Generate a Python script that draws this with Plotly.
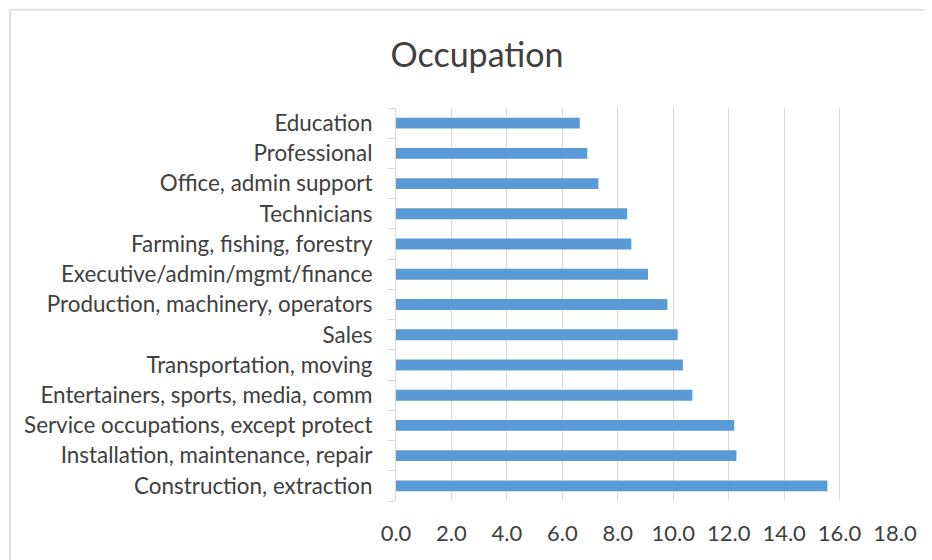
import plotly.graph_objects as go

categories = [
    "Construction, extraction",
    "Installation, maintenance, repair",
    "Service occupations, except protect",
    "Entertainers, sports, media, comm",
    "Transportation, moving",
    "Sales",
    "Production, machinery, operators",
    "Executive/admin/mgmt/finance",
    "Farming, fishing, forestry",
    "Technicians",
    "Office, admin support",
    "Professional",
    "Education",
]
values = [15.56, 12.28, 12.20, 10.69, 10.35, 10.16, 9.79, 9.09, 8.49, 8.34, 7.30, 6.90, 6.63]
tick_vals = [0, 2, 4, 6, 8, 10, 12, 14, 16, 18]
tick_text = ["0.0", "2.0", "4.0", "6.0", "8.0", "10.0", "12.0", "14.0", "16.0", "18.0"]

FONT = "Lato"
# page body has an 8px margin; figure sized to fit in the window
W, H = 924, 552
OFF = 8
L = 396 - OFF
R = W - (895.5 - OFF)
T = 108 - OFF
B = H - (501 - OFF)
pw = W - L - R
ph = H - T - B

fig = go.Figure(go.Bar(
    x=values, y=categories, orientation="h",
    marker=dict(color="#5b9bd5", line=dict(width=0)),
    width=0.36,
))

fig.update_layout(
    width=W, height=H,
    margin=dict(l=L, r=R, t=T, b=B, autoexpand=False),
    paper_bgcolor="white", plot_bgcolor="white",
    showlegend=False,
    title=dict(text="Occupation", x=(477 - OFF) / W, xanchor="center", y=1 - (55 - OFF) / H, yanchor="middle",
               font=dict(family=FONT, size=34, color="#404040")),
    font=dict(family=FONT, size=22, color="#404040"),
    xaxis=dict(range=[0, 18], tickvals=tick_vals, ticktext=tick_text, showgrid=True,
               gridcolor="#d9d9d9", gridwidth=1, zeroline=False, showline=False,
               ticks="", ticklabelstandoff=17, tickfont=dict(size=22, color="#404040"),
               fixedrange=True, automargin=False),
    yaxis=dict(categoryorder="array", categoryarray=categories, showline=True, linecolor="#d9d9d9",
               linewidth=1, ticks="outside", tickson="boundaries", ticklen=8, tickcolor="#d9d9d9",
               ticklabelstandoff=18, showgrid=False, tickfont=dict(size=22.4, color="#404040"),
               fixedrange=True, automargin=False),
    shapes=[dict(type="rect", xref="paper", yref="paper", x0=(9.8 - OFF - L) / pw, x1=1.3,
                 y0=-0.3, y1=(H - B - (9.8 - OFF)) / ph, line=dict(color="#d9d9d9", width=1.6), layer="below")],
)

fig.write_html("out.html")
